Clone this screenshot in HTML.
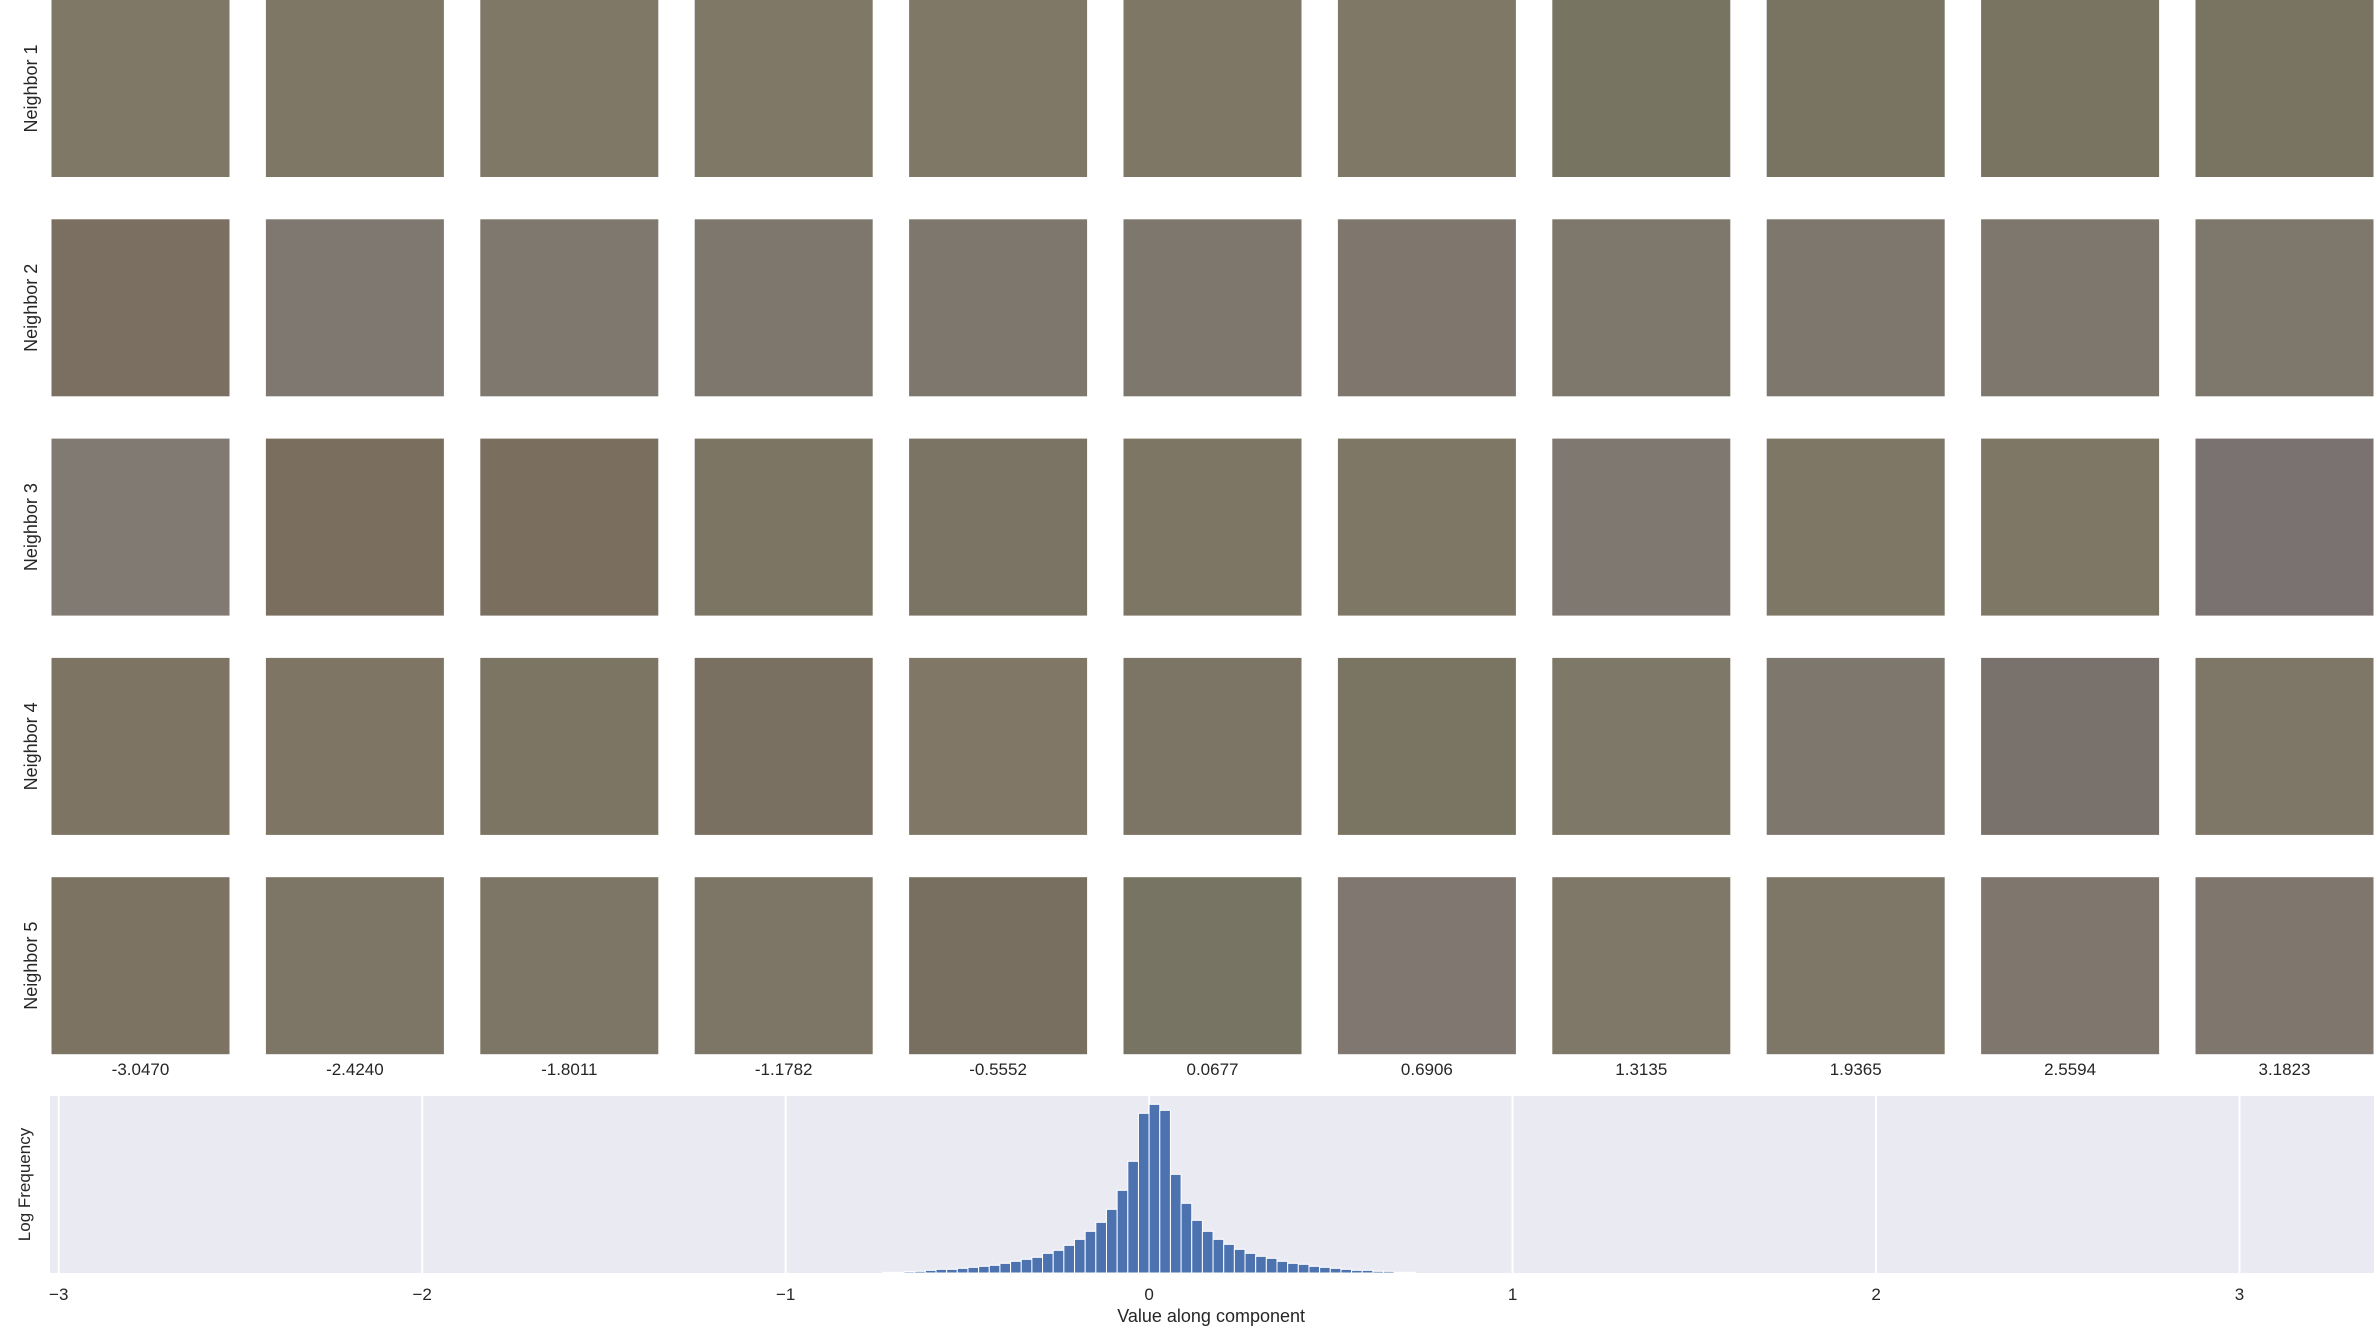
<!DOCTYPE html>
<html><head><meta charset="utf-8"><style>
html,body{margin:0;padding:0;background:#fff;}
svg{display:block;font-family:"Liberation Sans","DejaVu Sans",sans-serif;}
</style></head><body>
<svg id="fig" width="2374" height="1344" viewBox="0 0 2374 1344" xmlns="http://www.w3.org/2000/svg">
<g id="tiles"></g>
<g id="hist"></g>
</svg>
<script>
const componentValues = ["-3.0470","-2.4240","-1.8011","-1.1782","-0.5552","0.0677","0.6906","1.3135","1.9365","2.5594","3.1823"];
const rowLabels = ["Neighbor 1","Neighbor 2","Neighbor 3","Neighbor 4","Neighbor 5"];
const tileColors = [
 ["#7f7866","#7e7766","#7f7867","#7f7866","#7f7867","#7e7766","#807867","#787462","#797462","#797461","#797462"],
 ["#7a6f60","#7f7870","#7f786f","#7e776e","#7e776e","#7e776e","#7f776e","#7e776c","#7e776d","#7e776d","#7e776c"],
 ["#817a73","#7a6f5f","#7a6f5f","#7c7564","#7b7363","#7d7665","#7e7765","#7e7870","#7e7766","#7e7766","#7a7270"],
 ["#7d7463","#7e7564","#7d7564","#7a7061","#807766","#7c7464","#7a7463","#7e7868","#7e776e","#79716b","#7e7767"],
 ["#7c7363","#7d7565","#7d7565","#7d7565","#786f60","#787463","#807870","#7f7768","#7e7767","#7f776e","#7f776e"]
];
const binStart = -0.733;
const binWidth = 0.02932;
const logFreq = [2,2,4,5,8,11,11,14,17,20,23,29,35,41,47,59,68,83,101,125,152,191,248,335,479,506,488,296,209,158,125,101,86,71,59,50,44,35,29,26,20,17,14,11,8,8,5,5,2,2];
const xTicks = [-3,-2,-1,0,1,2,3];
const xTickLabels = ["\u22123","\u22122","\u22121","0","1","2","3"];

const NS="http://www.w3.org/2000/svg";
function mk(tag, attrs, parent){const e=document.createElementNS(NS,tag);for(const k in attrs)e.setAttribute(k,attrs[k]);parent.appendChild(e);return e;}

// tiles
const tiles=document.getElementById('tiles');
const colX0=51.5, colPitch=214.4, tileW=178, rowY0=0, rowPitch=219.3, tileH=177;
for(let r=0;r<rowLabels.length;r++){
  const yTop = rowY0 + r*rowPitch;
  const lbl=mk('text',{x:0,y:0,'font-size':18,fill:'#262626','text-anchor':'middle',transform:`translate(37,${yTop+tileH/2}) rotate(-90)`},tiles);
  lbl.textContent=rowLabels[r];
  
  
  for(let c=0;c<componentValues.length;c++){
    const t=mk('rect',{x:colX0+c*colPitch,y:yTop,width:tileW,height:tileH,fill:tileColors[r][c]},tiles);
    
    
  }
}
for(let c=0;c<componentValues.length;c++){
  const t=mk('text',{x:colX0+c*colPitch+tileW/2,y:1075,'font-size':17,fill:'#262626','text-anchor':'middle'},tiles);
  t.textContent=componentValues[c];
  
  
}

// histogram
const hist=document.getElementById('hist');
const axL=50, axR=2374, axT=1096, axB=1273;
const xMin=-3.024, xMax=3.37, yMax=531;
const xs=v=>axL+(v-xMin)/(xMax-xMin)*(axR-axL);
const ys=v=>axB-v/yMax*(axB-axT);
const bg=mk('rect',{x:axL,y:axT,width:axR-axL,height:axB-axT,fill:'#eaeaf2'},hist);


xTicks.forEach((v,i)=>{
  const g=mk('line',{x1:xs(v),x2:xs(v),y1:axT,y2:axB,stroke:'#fff','stroke-width':2},hist);
  
  
  const t=mk('text',{x:xs(v),y:1300,'font-size':17,fill:'#262626','text-anchor':'middle'},hist);
  t.textContent=xTickLabels[i];
  
  
});
logFreq.forEach((h,i)=>{
  const x0=xs(binStart+i*binWidth), x1=xs(binStart+(i+1)*binWidth);
  const b=mk('rect',{x:x0,y:ys(h),width:x1-x0,height:axB-ys(h),fill:'#4c72b0',stroke:'#fff','stroke-width':1},hist);
  
  
});
const xl=mk('text',{x:xs(0)+62,y:1322,'font-size':18,fill:'#262626','text-anchor':'middle'},hist);
xl.textContent='Value along component';


const yl=mk('text',{x:0,y:0,'font-size':17,fill:'#262626','text-anchor':'middle',transform:`translate(30,${(axT+axB)/2}) rotate(-90)`},hist);
yl.textContent='Log Frequency';


</script>
</body></html>
